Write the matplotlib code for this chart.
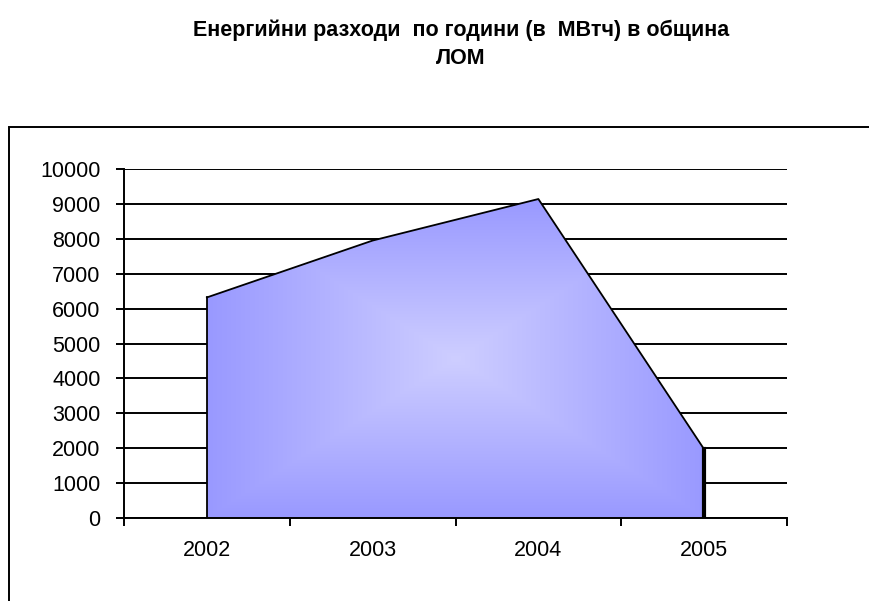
import numpy as np
import matplotlib
matplotlib.use('Agg')
import matplotlib.pyplot as plt
from matplotlib.patches import Polygon, Rectangle

# data (MWh per year)
years = ['2002', '2003', '2004', '2005']
energy = [6320, 7950, 9140, 1970]
y_ticks = list(range(0, 10001, 1000))

plt.rcParams['font.family'] = ['Liberation Sans', 'DejaVu Sans']

W, H = 869, 601
fig = plt.figure(figsize=(W / 100, H / 100), dpi=100)

# outer chart frame (runs off the right and bottom edges)
fig.patches.append(Rectangle((9 / W, -0.1), 1.2, 1.1 - 127 / H,
                             transform=fig.transFigure, fill=False,
                             edgecolor='black', linewidth=1.4))

# title
fig.text(461 / W, 1 - 30 / H, 'Енергийни разходи  по години (в  МВтч) в община',
         ha='center', va='center', fontsize=15.5, fontweight='bold')
fig.text(461 / W, 1 - 58 / H, 'ЛОМ', ha='center', va='center',
         fontsize=15.5, fontweight='bold')

ax = fig.add_axes([124 / W, 1 - 518 / H, (787 - 124) / W, (518 - 169) / H])
ax.set_xlim(0, len(years))
ax.set_ylim(0, 10000)

# horizontal gridlines
for v in y_ticks:
    ax.axhline(v, color='black', linewidth=1.4, zorder=1)

xs = np.arange(len(years)) + 0.5
verts = [(xs[0], 0)] + list(zip(xs, energy)) + [(xs[-1], 0)]
poly = Polygon(verts, closed=True, facecolor='none', edgecolor='none')
ax.add_patch(poly)

# "from centre" rectangular gradient fill, light middle, darker edges
n = 300
u = np.linspace(-1, 1, n)
U, V = np.meshgrid(u, u)
t = np.maximum(np.abs(U), np.abs(V))
edge = np.array([153, 153, 255]) / 255
centre = np.array([206, 206, 255]) / 255
img = edge + (centre - edge) * (1 - t)[..., None]
im = ax.imshow(img, extent=(xs[0], xs[-1], 0, max(energy)), origin='lower',
               aspect='auto', zorder=2, interpolation='bilinear')
im.set_clip_path(poly)

# outline of the area
ax.plot(xs, energy, color='black', linewidth=1.3, zorder=3)
ax.plot([xs[0], xs[0]], [0, energy[0]], color='black', linewidth=1.3, zorder=3)
ax.plot([xs[-1], xs[-1]], [0, energy[-1]], color='black', linewidth=3, zorder=3)

for s in ['top', 'right']:
    ax.spines[s].set_visible(False)
for s in ['left', 'bottom']:
    ax.spines[s].set_linewidth(1.4)
    ax.spines[s].set_zorder(4)

ax.set_yticks(y_ticks)
ax.set_yticklabels([str(v) for v in y_ticks])
ax.tick_params(axis='y', direction='out', length=6, width=1.4, pad=11,
               labelsize=15.5)

ax.set_xticks(np.arange(len(years) + 1))
ax.set_xticklabels([])
ax.set_xticks(xs, minor=True)
ax.set_xticklabels(years, minor=True)
ax.tick_params(axis='x', which='major', direction='out', length=6, width=1.4)
ax.tick_params(axis='x', which='minor', length=0, pad=16, labelsize=15.5)

fig.savefig('out.png', dpi=100)
